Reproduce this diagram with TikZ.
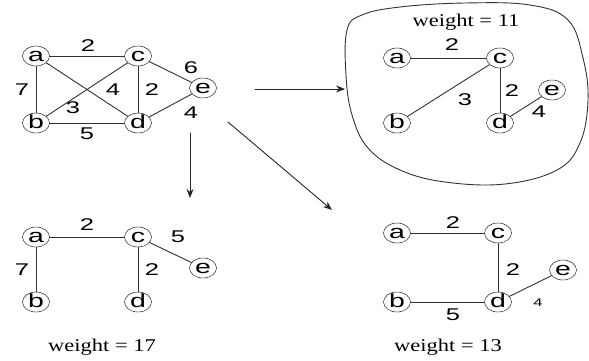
\documentclass[tikz,border=0pt]{standalone}
\usepackage{fontspec}
\setmainfont{Liberation Serif}
\newfontfamily\labfont[FakeStretch=1.5]{Liberation Sans}
\newfontfamily\wtfont[FakeStretch=1.25]{Liberation Serif}
\usetikzlibrary{arrows.meta,shapes.geometric}

\tikzset{
  vtx/.style={draw, ellipse, inner sep=0pt, minimum width=27pt, minimum height=20pt,
    text height=10pt, text depth=0pt, font=\labfont\fontsize{19}{19}\selectfont},
  wlab/.style={inner sep=0pt, font=\labfont\fontsize{17}{17}\selectfont},
  smalllab/.style={inner sep=0pt, font=\labfont\fontsize{11}{11}\selectfont},
  total/.style={inner sep=0pt, font=\wtfont\fontsize{18}{18}\selectfont},
  edge/.style={draw=black!80, line width=0.9pt},
  flow/.style={draw=black!85, line width=0.9pt, -{Stealth[length=9pt,width=7pt]}}
}

\begin{document}
\begin{tikzpicture}[x=1pt, y=-1pt, line cap=round, line join=round]
  \useasboundingbox (0,0) rectangle (589,360);

  % full graph
  \foreach \n/\x/\y in {a/36/56, c/138/56, e/203/88, b/36/123, d/138/123}
    \node[vtx] (A\n) at (\x,\y) {\n};
  \foreach \u/\v in {a/c, a/b, a/d, b/c, c/d, b/d, c/e, d/e}
    \draw[edge] (A\u) -- (A\v);
  \foreach \x/\y/\t in {88/46/2, 22/90/7, 113/90/4, 152/90/2, 73/108/3, 87/134/5, 191/68/6, 191/113/4}
    \node[wlab] at (\x,\y) {\t};

  % minimum spanning tree
  \draw[edge] plot[smooth cycle, tension=0.65] coordinates {
    (347,30) (362,15) (400,7) (465,3) (530,5) (568,20) (583,58) (588,100)
    (580,143) (557,170) (505,184) (445,182) (400,170) (368,148) (352,115) (346,75)};
  \node[total] (wB) at (466,22) {weight = 11};
  \foreach \n/\x/\y in {a/397/58, c/500/58, e/552/90, b/397/123, d/500/123}
    \node[vtx] (B\n) at (\x,\y) {\n};
  \foreach \u/\v in {a/c, b/c, c/d, d/e}
    \draw[edge] (B\u) -- (B\v);
  \foreach \x/\y/\t in {452/45/2, 465/100/3, 512/91/2, 539/112/4}
    \node[wlab] at (\x,\y) {\t};

  % spanning tree, weight 17
  \foreach \n/\x/\y in {a/36/237, c/138/237, e/203/268, b/36/302, d/138/302}
    \node[vtx] (C\n) at (\x,\y) {\n};
  \foreach \u/\v in {a/c, a/b, c/d, c/e}
    \draw[edge] (C\u) -- (C\v);
  \foreach \x/\y/\t in {87/225/2, 178/237/5, 22/270/7, 152/270/2}
    \node[wlab] at (\x,\y) {\t};
  \node[total] (wC) at (102,347) {weight = 17};

  % spanning tree, weight 13
  \foreach \n/\x/\y in {a/397/233, c/498/233, e/563/270, b/397/302, d/498/302}
    \node[vtx] (D\n) at (\x,\y) {\n};
  \foreach \u/\v in {a/c, c/d, b/d, d/e}
    \draw[edge] (D\u) -- (D\v);
  \foreach \x/\y/\t in {453/223/2, 513/270/2, 453/315/5}
    \node[wlab] at (\x,\y) {\t};
  \node[smalllab] at (538,303) {4};
  \node[total] (wD) at (448,347) {weight = 13};

  % arrows
  \coordinate (r0) at (255,89);  \coordinate (r1) at (345,89);
  \coordinate (s0) at (228,122); \coordinate (s1) at (332,210);
  \coordinate (t0) at (190,133); \coordinate (t1) at (190,198);
  \draw[flow] (r0) -- (r1);
  \draw[flow] (s0) -- (s1);
  \draw[flow] (t0) -- (t1);
\end{tikzpicture}
\end{document}
